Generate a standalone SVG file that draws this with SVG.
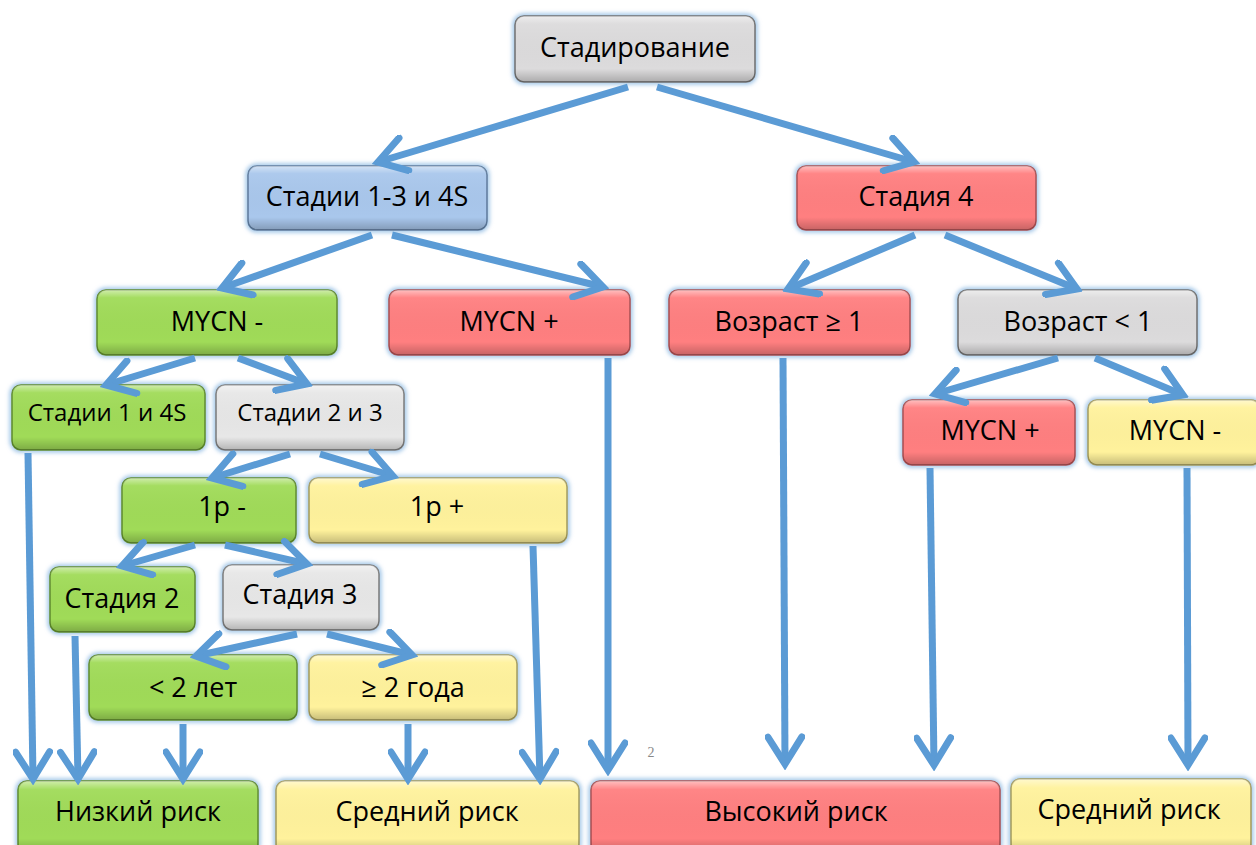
<svg xmlns="http://www.w3.org/2000/svg" width="1256" height="845" viewBox="0 0 1256 845">
<defs>
<linearGradient id="bevel" x1="0" y1="0" x2="0" y2="1">
<stop offset="0" stop-color="#fff" stop-opacity="0.5"/>
<stop offset="0.12" stop-color="#fff" stop-opacity="0.05"/>
<stop offset="0.8" stop-color="#000" stop-opacity="0"/>
<stop offset="1" stop-color="#000" stop-opacity="0.22"/>
</linearGradient>
<filter id="glow" x="-10%" y="-20%" width="120%" height="140%">
<feGaussianBlur stdDeviation="2"/>
</filter>
<marker id="ah" markerUnits="userSpaceOnUse" markerWidth="40" markerHeight="40" viewBox="-34 -20 40 40" refX="0" refY="0" orient="auto">
<path d="M-27,-17 L0,0 L-27,17" fill="none" stroke="#5B9BD5" stroke-width="7" stroke-linejoin="miter" stroke-linecap="round"/>
</marker>
</defs>
<style>
.g{fill:none;stroke:#9DC3E6;stroke-width:5;filter:url(#glow)}
.b{stroke-width:1.5}
.ov{fill:url(#bevel);stroke:none}
.gray{fill:#DCDBDC;stroke:#6F6F6F}
.lgray{fill:#E7E7E7;stroke:#7A7A7A}
.blue{fill:#A9C7EC;stroke:#5D7A9C}
.red{fill:#FF7F80;stroke:#A84E50}
.green{fill:#A0DB58;stroke:#5E8A2C}
.yellow{fill:#FFF29C;stroke:#A39A5C}
text{font-family:"Open Sans","Liberation Sans",sans-serif;font-size:27px;fill:#000;text-anchor:middle;dominant-baseline:central}
.s{font-size:24px}
#conn line{stroke:#5B9BD5;stroke-width:7;marker-end:url(#ah)}
</style>
<rect width="1256" height="845" fill="#fff"/>

<g id="n1"><rect class="g" x="515" y="16" width="240" height="66" rx="9"/><rect class="b gray" x="515" y="16" width="240" height="66" rx="9"/><rect class="ov" x="515" y="16" width="240" height="66" rx="9"/><text x="635" y="46">Стадирование</text></g>
<g id="n2"><rect class="g" x="248" y="166" width="239" height="64" rx="9"/><rect class="b blue" x="248" y="166" width="239" height="64" rx="9"/><rect class="ov" x="248" y="166" width="239" height="64" rx="9"/><text x="367" y="195">Стадии 1-3 и 4S</text></g>
<g id="n3"><rect class="g" x="797" y="166" width="239" height="64" rx="9"/><rect class="b red" x="797" y="166" width="239" height="64" rx="9"/><rect class="ov" x="797" y="166" width="239" height="64" rx="9"/><text x="916" y="195">Стадия 4</text></g>
<g id="n4"><rect class="g" x="97" y="290" width="240" height="65" rx="9"/><rect class="b green" x="97" y="290" width="240" height="65" rx="9"/><rect class="ov" x="97" y="290" width="240" height="65" rx="9"/><text x="217" y="320">MYCN -</text></g>
<g id="n5"><rect class="g" x="389" y="290" width="241" height="65" rx="9"/><rect class="b red" x="389" y="290" width="241" height="65" rx="9"/><rect class="ov" x="389" y="290" width="241" height="65" rx="9"/><text x="509" y="320">MYCN +</text></g>
<g id="n6"><rect class="g" x="669" y="290" width="241" height="65" rx="9"/><rect class="b red" x="669" y="290" width="241" height="65" rx="9"/><rect class="ov" x="669" y="290" width="241" height="65" rx="9"/><text x="789" y="320">Возраст ≥ 1</text></g>
<g id="n7"><rect class="g" x="958" y="290" width="239" height="65" rx="9"/><rect class="b gray" x="958" y="290" width="239" height="65" rx="9"/><rect class="ov" x="958" y="290" width="239" height="65" rx="9"/><text x="1078" y="320">Возраст &lt; 1</text></g>
<g id="n8"><rect class="g" x="12" y="385" width="193" height="65" rx="9"/><rect class="b green" x="12" y="385" width="193" height="65" rx="9"/><rect class="ov" x="12" y="385" width="193" height="65" rx="9"/><text class="s" x="107" y="411">Стадии 1 и 4S</text></g>
<g id="n9"><rect class="g" x="216" y="385" width="188" height="65" rx="9"/><rect class="b lgray" x="216" y="385" width="188" height="65" rx="9"/><rect class="ov" x="216" y="385" width="188" height="65" rx="9"/><text class="s" x="310" y="411">Стадии 2 и 3</text></g>
<g id="n10"><rect class="g" x="903" y="400" width="172" height="65" rx="9"/><rect class="b red" x="903" y="400" width="172" height="65" rx="9"/><rect class="ov" x="903" y="400" width="172" height="65" rx="9"/><text x="990" y="429">MYCN +</text></g>
<g id="n11"><rect class="g" x="1088" y="400" width="172" height="65" rx="9"/><rect class="b yellow" x="1088" y="400" width="172" height="65" rx="9"/><rect class="ov" x="1088" y="400" width="172" height="65" rx="9"/><text x="1175" y="429">MYCN -</text></g>
<g id="n12"><rect class="g" x="122" y="478" width="174" height="65" rx="9"/><rect class="b green" x="122" y="478" width="174" height="65" rx="9"/><rect class="ov" x="122" y="478" width="174" height="65" rx="9"/><text x="222" y="505">1p -</text></g>
<g id="n13"><rect class="g" x="309" y="478" width="258" height="65" rx="9"/><rect class="b yellow" x="309" y="478" width="258" height="65" rx="9"/><rect class="ov" x="309" y="478" width="258" height="65" rx="9"/><text x="437" y="505">1p +</text></g>
<g id="n14"><rect class="g" x="50" y="567" width="145" height="65" rx="9"/><rect class="b green" x="50" y="567" width="145" height="65" rx="9"/><rect class="ov" x="50" y="567" width="145" height="65" rx="9"/><text x="122" y="597">Стадия 2</text></g>
<g id="n15"><rect class="g" x="223" y="565" width="156" height="65" rx="9"/><rect class="b lgray" x="223" y="565" width="156" height="65" rx="9"/><rect class="ov" x="223" y="565" width="156" height="65" rx="9"/><text x="300" y="593">Стадия 3</text></g>
<g id="n16"><rect class="g" x="89" y="655" width="208" height="65" rx="9"/><rect class="b green" x="89" y="655" width="208" height="65" rx="9"/><rect class="ov" x="89" y="655" width="208" height="65" rx="9"/><text x="193" y="686">&lt; 2 лет</text></g>
<g id="n17"><rect class="g" x="309" y="655" width="208" height="65" rx="9"/><rect class="b yellow" x="309" y="655" width="208" height="65" rx="9"/><rect class="ov" x="309" y="655" width="208" height="65" rx="9"/><text x="413" y="686">≥ 2 года</text></g>
<g id="n18"><rect class="g" x="18" y="781" width="240" height="72" rx="9"/><rect class="b green" x="18" y="781" width="240" height="72" rx="9"/><rect class="ov" x="18" y="781" width="240" height="72" rx="9"/><text x="138" y="810">Низкий риск</text></g>
<g id="n19"><rect class="g" x="276" y="781" width="303" height="72" rx="9"/><rect class="b yellow" x="276" y="781" width="303" height="72" rx="9"/><rect class="ov" x="276" y="781" width="303" height="72" rx="9"/><text x="427" y="810">Средний риск</text></g>
<g id="n20"><rect class="g" x="591" y="781" width="409" height="72" rx="9"/><rect class="b red" x="591" y="781" width="409" height="72" rx="9"/><rect class="ov" x="591" y="781" width="409" height="72" rx="9"/><text x="796" y="810">Высокий риск</text></g>
<g id="n21"><rect class="g" x="1011" y="779" width="240" height="74" rx="9"/><rect class="b yellow" x="1011" y="779" width="240" height="74" rx="9"/><rect class="ov" x="1011" y="779" width="240" height="74" rx="9"/><text x="1129" y="808">Средний риск</text></g>

<text x="651" y="752" style="font-family:'Liberation Serif',serif;font-size:14px;fill:#888">2</text>

<g id="conn">
<line x1="628" y1="87" x2="378" y2="162"/>
<line x1="657" y1="87" x2="914" y2="162"/>
<line x1="372" y1="235" x2="222" y2="288"/>
<line x1="392" y1="235" x2="603" y2="287"/>
<line x1="915" y1="235" x2="788" y2="289"/>
<line x1="945" y1="235" x2="1077" y2="289"/>
<line x1="195" y1="358" x2="106" y2="385"/>
<line x1="238" y1="358" x2="307" y2="384"/>
<line x1="290" y1="454" x2="212" y2="478"/>
<line x1="320" y1="454" x2="393" y2="476"/>
<line x1="195" y1="545" x2="122" y2="566"/>
<line x1="225" y1="545" x2="307" y2="564"/>
<line x1="297" y1="634" x2="196" y2="656"/>
<line x1="327" y1="634" x2="412" y2="655"/>
<line x1="1058" y1="358" x2="935" y2="394"/>
<line x1="1095" y1="358" x2="1183" y2="395"/>
<line x1="28" y1="453" x2="33" y2="779"/>
<line x1="75" y1="636" x2="78" y2="779"/>
<line x1="183" y1="724" x2="183" y2="779"/>
<line x1="408" y1="724" x2="408" y2="779"/>
<line x1="533" y1="546" x2="540" y2="779"/>
<line x1="608" y1="358" x2="608" y2="770"/>
<line x1="783" y1="358" x2="785" y2="764"/>
<line x1="930" y1="468" x2="934" y2="765"/>
<line x1="1187" y1="468" x2="1188" y2="765"/>
</g>
</svg>
